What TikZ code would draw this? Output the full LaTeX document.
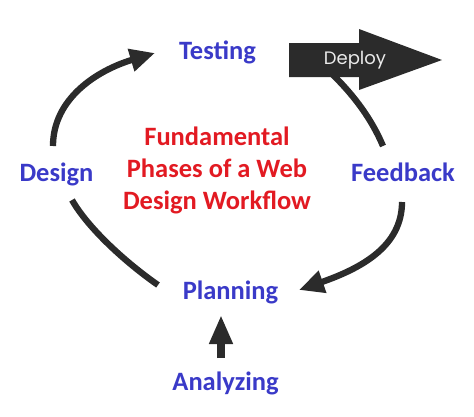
\documentclass[tikz,border=0pt]{standalone}
\usepackage{fontspec}
\setmainfont{Carlito}
\newfontfamily\deployfont{Poppins}
\usetikzlibrary{arrows.meta}
\definecolor{phaseblue}{RGB}{58,58,200}
\definecolor{titlered}{RGB}{226,26,34}
\definecolor{arrowgray}{RGB}{43,43,43}
\definecolor{deploytext}{RGB}{235,235,235}
\tikzset{
  phase/.style={font=\bfseries\fontsize{26.5}{32}\selectfont, text=phaseblue, inner sep=0pt, anchor=base},
  titletext/.style={font=\bfseries\fontsize{26.5}{32}\selectfont, text=titlered, inner sep=0pt, align=center},
  cyclearrow/.style={draw=arrowgray, line width=6.3pt, -{Triangle[length=25pt,width=22pt]}},
  cycleline/.style={draw=arrowgray, line width=6.3pt},
  blockarrow/.style={draw=arrowgray, line width=8pt, -{Triangle[length=29pt,width=22pt]}}
}
\begin{document}
\begin{tikzpicture}[x=1pt,y=-1pt]
\useasboundingbox (0,0) rectangle (474,416);
% labels
\node[phase] (testing) at (217.5,59) {Testing};
\node[phase] (design) at (56.5,181) {Design};
\node[phase] (feedback) at (403,181) {Feedback};
\node[phase] (planning) at (230.5,299) {Planning};
\node[phase] (analyzing) at (225.5,390) {Analyzing};
\node[titletext] (title) at (217,170) {Fundamental\\Phases of a Web\\Design Workflow};
% connector end points
\coordinate (d1) at (53,146);
\coordinate (t1) at (155,53);
\coordinate (p1) at (158,285);
\coordinate (d2) at (72,200);
\coordinate (f1) at (402,202);
\coordinate (p2) at (299,290);
\coordinate (f2) at (383,146);
\coordinate (dep1) at (330,72);
\coordinate (a1) at (221,358);
\coordinate (p3) at (221,315);
% connectors
\draw[cyclearrow] (d1) .. controls (53,98) and (98,70) .. (t1);
\draw[cycleline] (p1) .. controls (125,262) and (88,228) .. (d2);
\draw[cyclearrow] (f1) .. controls (402,246) and (362,268) .. (p2);
\draw[cycleline] (f2) .. controls (372,120) and (355,96) .. (dep1);
\draw[blockarrow] (a1) -- (p3);
% deploy arrow
\fill[arrowgray] (289,43) -- (359,43) -- (359,29) -- (442,60) -- (359,90) -- (359,77) -- (289,77) -- cycle;
\node[font=\deployfont\fontsize{18}{20}\selectfont, text=deploytext, inner sep=0pt] (deploy) at (355,60) {Deploy};
\end{tikzpicture}
\end{document}
